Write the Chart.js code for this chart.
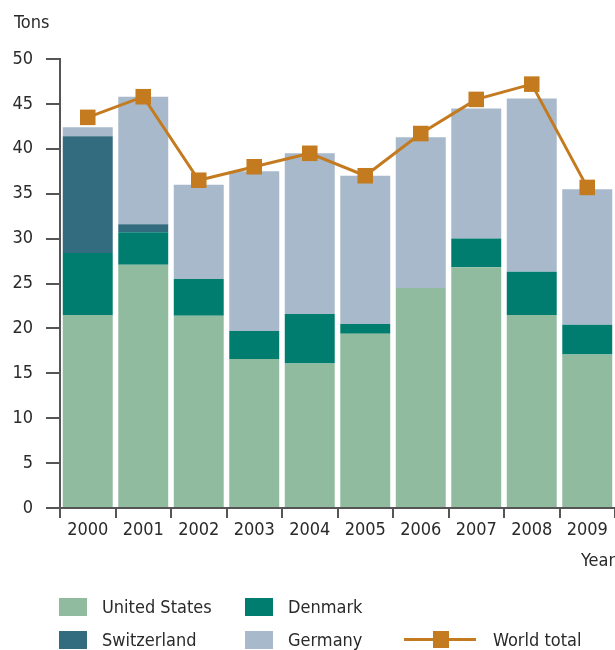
<!DOCTYPE html>
<html>
<head>
<meta charset="utf-8">
<script src="https://cdn.jsdelivr.net/npm/chart.js@4.4.1/dist/chart.umd.min.js"></script>
<style>
  html, body { margin: 0; padding: 0; background: #fff; }
  body { width: 615px; height: 650px; position: relative; overflow: hidden;
         font-family: 'Liberation Sans Narrow', 'DejaVu Sans Condensed', 'Roboto', sans-serif; color: #2a2a2a; }
  #wrap { position: absolute; left: 0; top: 0; width: 626px; height: 650px; }
  .lbl { position: absolute; font-size: 18px; line-height: 18px; white-space: nowrap; }
  .box { position: absolute; width: 28px; height: 18px; }
</style>
</head>
<body>
<!-- canvas is 11px wider than the page: chart.js keeps room for the line's square markers on the right -->
<div id="wrap"><canvas id="chart" width="626" height="650"></canvas></div>
<div class="lbl" style="left:14px; top:13px;">Tons</div>
<div class="lbl" style="left:581px; top:551px;">Year</div>
<div id="legend"></div>
<script>
const years = ['2000', '2001', '2002', '2003', '2004', '2005', '2006', '2007', '2008', '2009'];
const unitedStates = [21.5, 27.1, 21.4, 16.6, 16.1, 19.4, 24.5, 26.8, 21.5, 17.1];
const denmark = [6.9, 3.6, 4.1, 3.1, 5.5, 1.1, 0, 3.2, 4.8, 3.3];
const switzerland = [13.0, 0.9, 0, 0, 0, 0, 0, 0, 0, 0];
const germany = [1.0, 14.2, 10.5, 17.8, 17.9, 16.5, 16.8, 14.5, 19.3, 15.1];
const worldTotal = [43.5, 45.8, 36.5, 38.0, 39.5, 37.0, 41.7, 45.5, 47.2, 35.7];
const yTicks = [0, 5, 10, 15, 20, 25, 30, 35, 40, 45, 50];

const colors = {
    us: '#90bb9f',
    dk: '#007d6e',
    ch: '#336b7f',
    de: '#a7b9ca',
    world: '#c47a1e'
};
const axisColor = '#555';
const fontFamily = "'Liberation Sans Narrow', 'DejaVu Sans Condensed', 'Roboto', sans-serif";

function barSet(label, data, color) {
    return {
        type: 'bar', label: label, data: data, backgroundColor: color,
        borderWidth: 0, categoryPercentage: 1, barPercentage: 0.9, order: 2
    };
}

new Chart(document.getElementById('chart'), {
    data: {
        labels: years,
        datasets: [
            {
                type: 'line', label: 'World total', data: worldTotal, stack: 'total',
                borderColor: colors.world, backgroundColor: colors.world, borderWidth: 3,
                pointStyle: 'rect', pointRadius: 11, pointBorderWidth: 0,
                pointBackgroundColor: colors.world, tension: 0, order: 1
            },
            barSet('United States', unitedStates, colors.us),
            barSet('Denmark', denmark, colors.dk),
            barSet('Switzerland', switzerland, colors.ch),
            barSet('Germany', germany, colors.de)
        ]
    },
    options: {
        responsive: false,
        animation: false,
        layout: { padding: { left: 0, top: 59, right: 0, bottom: 112 } },
        plugins: { legend: { display: false }, tooltip: { enabled: false } },
        scales: {
            x: {
                stacked: true,
                grid: { offset: true, drawOnChartArea: false, tickLength: 10, color: axisColor, lineWidth: 2 },
                border: { display: true, color: axisColor, width: 2 },
                ticks: { color: '#2a2a2a', font: { family: fontFamily, size: 18 }, padding: 2, maxRotation: 0 },
                afterFit: scale => {
                    scale.height = 30;
                    scale.paddingLeft = 0;
                    scale.paddingRight = 0;
                }
            },
            y: {
                stacked: true,
                min: 0, max: 50,
                afterBuildTicks: scale => { scale.ticks = yTicks.map(v => ({ value: v })); },
                grid: { drawOnChartArea: false, tickLength: 14, color: axisColor, lineWidth: 2 },
                border: { display: true, color: axisColor, width: 2 },
                ticks: { color: '#2a2a2a', font: { family: fontFamily, size: 18 }, padding: 13 },
                afterFit: scale => { scale.width = 60; }
            }
        }
    }
});

// legend in html, laid out like the original (2 rows)
const legendItems = [
    { label: 'United States', color: colors.us, x: 59, y: 598 },
    { label: 'Denmark', color: colors.dk, x: 245, y: 598 },
    { label: 'Switzerland', color: colors.ch, x: 59, y: 631 },
    { label: 'Germany', color: colors.de, x: 245, y: 631 }
];
const legend = document.getElementById('legend');
legendItems.forEach(item => {
    legend.innerHTML += `<div class="box" style="left:${item.x}px; top:${item.y}px; background:${item.color};"></div>` +
        `<div class="lbl" style="left:${item.x + 43}px; top:${item.y}px;">${item.label}</div>`;
});
legend.innerHTML += `<div style="position:absolute; left:404px; top:638px; width:72px; height:3px; background:${colors.world};"></div>` +
    `<div style="position:absolute; left:433px; top:631px; width:16px; height:17px; background:${colors.world};"></div>` +
    `<div class="lbl" style="left:493px; top:631px;">World total</div>`;
</script>
</body>
</html>
